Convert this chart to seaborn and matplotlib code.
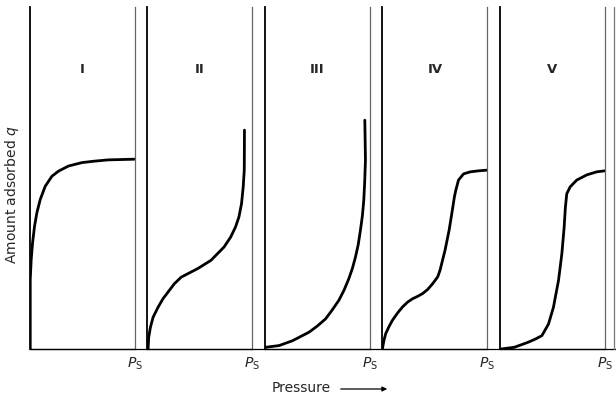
import numpy as np
import pandas as pd
import matplotlib
matplotlib.use("Agg")
import matplotlib.pyplot as plt
import seaborn as sns
from matplotlib.lines import Line2D
from matplotlib.patches import FancyArrowPatch

# isotherm shapes (pressure as fraction of Ps, amount adsorbed as fraction of axis)
labels = ["I", "II", "III", "IV", "V"]

p_1 = [0.007, 0.007, 0.016, 0.029, 0.048, 0.070, 0.102, 0.150, 0.213, 0.276, 0.371, 0.499, 0.610, 0.750, 1.0]
q_1 = [0.0, 0.202, 0.261, 0.310, 0.359, 0.398, 0.437, 0.476, 0.505, 0.520, 0.535, 0.545, 0.549, 0.553, 0.555]

p_2 = [0.009, 0.015, 0.031, 0.057, 0.104, 0.151, 0.198, 0.260, 0.324, 0.387, 0.481, 0.607, 0.732,
       0.795, 0.842, 0.874, 0.899, 0.915, 0.925, 0.927]
q_2 = [0.0, 0.034, 0.063, 0.093, 0.122, 0.147, 0.166, 0.191, 0.210, 0.220, 0.235, 0.259, 0.298,
       0.327, 0.357, 0.386, 0.425, 0.474, 0.523, 0.640]

p_3 = [0.009, 0.136, 0.263, 0.421, 0.500, 0.579, 0.640, 0.705, 0.755, 0.800, 0.835, 0.864, 0.890,
       0.911, 0.930, 0.943, 0.952, 0.959, 0.953]
q_3 = [0.005, 0.010, 0.024, 0.049, 0.067, 0.088, 0.113, 0.142, 0.172, 0.205, 0.236, 0.269, 0.305,
       0.347, 0.390, 0.435, 0.490, 0.552, 0.669]

p_4 = [0.0, 0.015, 0.032, 0.064, 0.096, 0.144, 0.192, 0.240, 0.288, 0.336, 0.383, 0.431, 0.479, 0.527,
       0.549, 0.597, 0.636, 0.667, 0.686, 0.700, 0.725, 0.773, 0.837, 0.917, 1.0]
q_4 = [0.0, 0.025, 0.045, 0.066, 0.084, 0.105, 0.123, 0.137, 0.147, 0.154, 0.162, 0.174, 0.191, 0.211,
       0.230, 0.289, 0.348, 0.407, 0.445, 0.465, 0.494, 0.512, 0.518, 0.521, 0.523]

p_5 = [0.010, 0.136, 0.262, 0.330, 0.399, 0.462, 0.509, 0.557, 0.589, 0.611, 0.623, 0.636, 0.668,
       0.731, 0.826, 0.921, 1.0]
q_5 = [0.0, 0.005, 0.019, 0.028, 0.039, 0.073, 0.122, 0.200, 0.278, 0.356, 0.415, 0.454, 0.474,
       0.494, 0.509, 0.518, 0.521]

curves = [(p_1, q_1), (p_2, q_2), (p_3, q_3), (p_4, q_4), (p_5, q_5)]

sns.set_style("white")
plt.rcParams['font.family'] = ['DejaVu Sans']
plt.rcParams['mathtext.fontset'] = 'dejavusans'

fig, axes = plt.subplots(1, 5, figsize=(6.16, 3.98), dpi=100)
fig.subplots_adjust(left=29.5 / 616, right=605 / 616, bottom=49 / 398, top=391 / 398, wspace=0.12)

for ax, lab, (p, q) in zip(axes, labels, curves):
    df = pd.DataFrame({'pressure': p, 'amount': q})
    sns.lineplot(data=df, x='pressure', y='amount', ax=ax, sort=False, estimator=None,
                 color='black', linewidth=2.0)
    ax.lines[0].set_solid_joinstyle('round')
    ax.lines[0].set_solid_capstyle('round')
    ax.set_xlim(0, 1)
    ax.set_ylim(0, 1)
    ax.set_xlabel('')
    ax.set_ylabel('')
    ax.set_yticks([])
    ax.set_xticks([1])
    ax.set_xticklabels([r'$P_{\rm S}$'], fontsize=10)
    ax.tick_params(axis='x', length=0, pad=5)
    ax.spines['top'].set_visible(False)
    ax.spines['left'].set_color('black')
    ax.spines['left'].set_linewidth(1.3)
    ax.spines['right'].set_color('#666666')
    ax.spines['right'].set_linewidth(0.9)
    ax.spines['bottom'].set_color('black')
    ax.spines['bottom'].set_linewidth(0.9)
    ax.text(0.5, 0.816, lab, transform=ax.transAxes, ha='center', va='center',
            fontsize=9.5, fontweight='bold')

# continuous baseline under all panels and edge line at the right
fig.add_artist(Line2D([29.5 / 616, 1.0], [49 / 398, 49 / 398], color='black', linewidth=0.9))
fig.add_artist(Line2D([614 / 616, 614 / 616], [49 / 398, 391 / 398], color='#777777', linewidth=0.9))

fig.text(12 / 616, 1 - 195 / 398, r'Amount adsorbed $q$', rotation=90, ha='center', va='center', fontsize=10)
fig.text(272 / 616, 1 - 388 / 398, 'Pressure', ha='left', va='center', fontsize=10)
fig.add_artist(FancyArrowPatch((338 / 616, 1 - 389 / 398), (390 / 616, 1 - 389 / 398),
                               transform=fig.transFigure, arrowstyle='-|>',
                               mutation_scale=7, linewidth=0.9, color='black'))

fig.savefig('out.png', dpi=100)
